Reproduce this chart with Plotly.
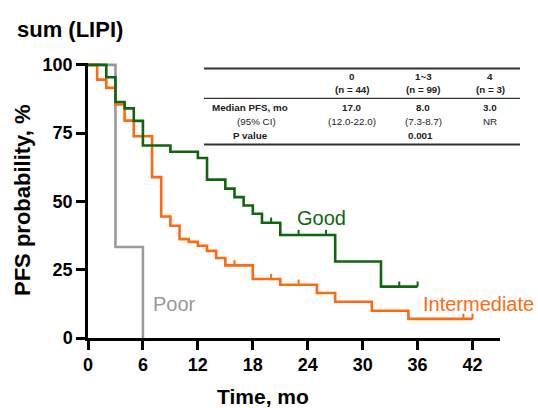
import plotly.graph_objects as go

# ---------------- data ----------------
good_t = [0, 2, 3, 4, 5, 6, 9, 12, 13, 15, 16, 17, 18, 19, 21, 27, 32, 36]
good_s = [100, 95.5, 86.4, 84.1, 79.5, 70.5, 68.2, 65.9, 58.0, 54.7, 51.6, 48.5, 45.5, 42.2, 37.7, 28.0, 18.8, 18.8]
good_cens = [20, 23, 26, 34, 36]

inter_t = [0, 1, 2, 3, 4, 5, 7, 8, 9, 10, 11, 12, 13, 14, 15, 18, 21, 25, 27, 31, 35, 42]
inter_s = [100, 94.6, 91.6, 85.5, 79.6, 73.9, 58.9, 44.5, 41.1, 36.2, 35.2, 33.8, 31.9, 29.3, 26.6, 21.6, 19.5, 16.5, 13.3, 10.0, 7.0, 7.0]
inter_cens = [16, 20, 23, 41, 42]

poor_t = [0, 3, 6]
poor_s = [100, 33.3, 0]

x_ticks = [0, 6, 12, 18, 24, 30, 36, 42]
y_ticks = [0, 25, 50, 75, 100]

table_cols = ["0", "1~3", "4"]
table_n = ["(n = 44)", "(n = 99)", "(n = 3)"]
table_median = ["17.0", "8.0", "3.0"]
table_ci = ["(12.0-22.0)", "(7.3-8.7)", "NR"]
p_value = "0.001"

GREEN = "#0f660f"
ORANGE = "#ff6a10"
GRAY = "#999999"
FONT = "Liberation Sans, Arial, sans-serif"
TFONT = "Liberation Sans Narrow, Arial Narrow, Liberation Sans, Arial, sans-serif"

# layout geometry (pixels)
W, H = 538, 408
ML, MR, MT, MB = 88, 38, 63, 70
PW, PH = W - ML - MR, H - MT - MB


def xp(px):
    return (px - ML) / PW


def yp(py):
    return (H - MB - py) / PH


def step_value(ts, ss, t):
    v = ss[0]
    for ti, si in zip(ts, ss):
        if ti <= t:
            v = si
    return v


def censor_xy(ts, ss, cens, h=1.9):
    xs, ys = [], []
    for c in cens:
        v = step_value(ts, ss, c)
        xs += [c, c, None]
        ys += [v, v + h, None]
    return xs, ys


fig = go.Figure()

for ts, ss, col in [(poor_t, poor_s, GRAY), (inter_t, inter_s, ORANGE), (good_t, good_s, GREEN)]:
    fig.add_trace(go.Scatter(x=ts, y=ss, mode="lines", line=dict(color=col, width=2.6, shape="hv"),
                             hoverinfo="skip", showlegend=False))

for ts, ss, cens, col in [(inter_t, inter_s, inter_cens, ORANGE), (good_t, good_s, good_cens, GREEN)]:
    cx, cy = censor_xy(ts, ss, cens)
    fig.add_trace(go.Scatter(x=cx, y=cy, mode="lines", line=dict(color=col, width=2),
                             hoverinfo="skip", showlegend=False))

axis_common = dict(showline=True, linecolor="black", linewidth=2.5, ticks="outside", ticklen=9,
                   tickwidth=2.5, tickcolor="black", showgrid=False, zeroline=False,
                   tickfont=dict(family=FONT, size=18, color="black", weight="bold"))

fig.update_xaxes(range=[0, 45], tickvals=x_ticks, ticktext=[str(v) for v in x_ticks], **axis_common)
fig.update_yaxes(range=[0, 100.7], tickvals=y_ticks, ticktext=[str(v) for v in y_ticks], **axis_common)

ann = []
# title & axis titles
ann.append(dict(text="<b>sum (LIPI)</b>", x=xp(15), y=yp(29), xanchor="left", yanchor="middle",
                font=dict(family=FONT, size=22, color="black")))
ann.append(dict(text="<b>Time, mo</b>", x=xp(263), y=yp(396), xanchor="center", yanchor="middle",
                font=dict(family=FONT, size=21, color="black")))
ann.append(dict(text="<b>PFS probability, %</b>", x=xp(22), y=yp(200), xanchor="center", yanchor="middle",
                textangle=-90, font=dict(family=FONT, size=22, color="black")))
# curve labels
ann.append(dict(text="Good", x=xp(295), y=yp(218), xanchor="left", yanchor="middle",
                font=dict(family=FONT, size=20, color=GREEN)))
ann.append(dict(text="Poor", x=xp(151), y=yp(304), xanchor="left", yanchor="middle",
                font=dict(family=FONT, size=20, color=GRAY)))
ann.append(dict(text="Intermediate", x=xp(421), y=yp(304), xanchor="left", yanchor="middle",
                font=dict(family=FONT, size=20, color=ORANGE)))

# table
col_x = [352, 423, 490]
lab_x = 250


def tt(text, x, y, bold=False):
    t = f"<b>{text}</b>" if bold else text
    return dict(text=t, x=xp(x), y=yp(y), xanchor="center", yanchor="middle",
                font=dict(family=TFONT, size=9.8, color="#222222"))


for i in range(3):
    ann.append(tt(table_cols[i], col_x[i], 76.5, True))
    ann.append(tt(table_n[i], col_x[i], 89.5, True))
    ann.append(tt(table_median[i], col_x[i], 107.5, True))
    ann.append(tt(table_ci[i], col_x[i], 121))
ann.append(tt("Median PFS, mo", lab_x, 107.5, True))
ann.append(tt("(95% CI)", lab_x + 6, 121))
ann.append(tt("P value", lab_x, 135, True))
ann.append(tt(p_value, 420, 135, True))

for a in ann:
    a.update(xref="paper", yref="paper", showarrow=False)

shapes = []
for y, w in [(68.5, 1.8), (98.3, 1.2), (144.5, 1.8)]:
    shapes.append(dict(type="line", xref="paper", yref="paper", x0=xp(204), x1=xp(520),
                       y0=yp(y), y1=yp(y), line=dict(color="#333333", width=w)))

fig.update_layout(width=W, height=H, margin=dict(l=ML, r=MR, t=MT, b=MB),
                  paper_bgcolor="white", plot_bgcolor="white",
                  annotations=ann, shapes=shapes, showlegend=False,
                  font=dict(family=FONT))

fig.write_html("out.html", config={"displayModeBar": False},
               post_script="document.body.style.margin='0px';document.body.style.overflow='hidden';")
